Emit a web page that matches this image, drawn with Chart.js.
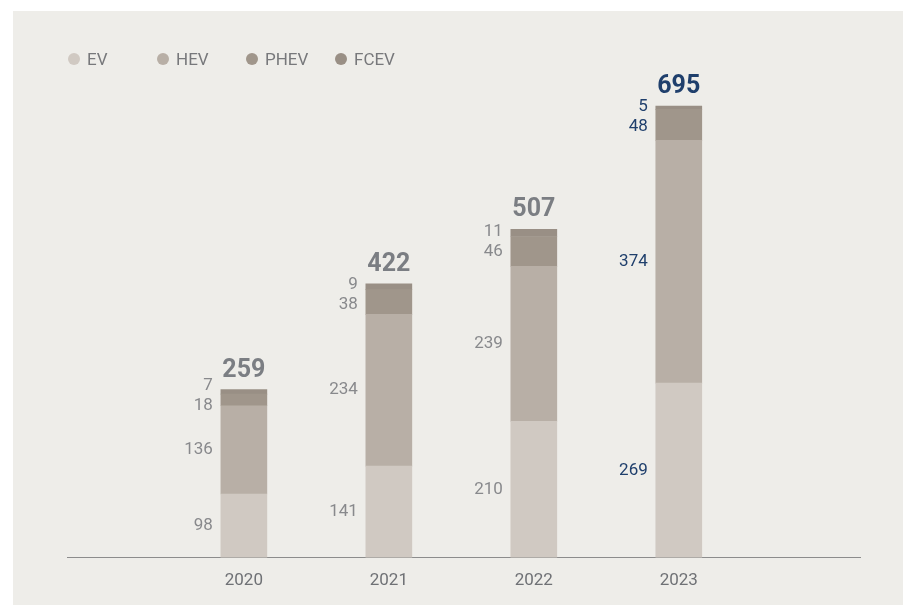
<!DOCTYPE html>
<html lang="en">
<head>
<meta charset="utf-8">
<title>EV / HEV / PHEV / FCEV</title>
<script src="https://cdn.jsdelivr.net/npm/chart.js@4.4.1/dist/chart.umd.min.js"></script>
<style>
    html, body { margin: 0; padding: 0; background: #ffffff; }
    body { width: 903px; height: 605px; position: relative; overflow: hidden; }
    #painel {
        position: absolute; left: 13px; top: 11px;
        width: 890px; height: 594px;
        background: #eeede9;
    }
    #grafico { position: absolute; left: 0; top: 0; }
    #legenda {
        position: absolute; left: 55px; top: 38px;
        display: flex; font-family: Roboto, "Liberation Sans", sans-serif;
        font-size: 17px; color: #77787b;
    }
    .item { width: 89px; display: flex; align-items: center; }
    .ponto { width: 12px; height: 12px; border-radius: 50%; margin-right: 7px; }
</style>
</head>
<body>
<div id="painel">
    <canvas id="grafico" width="890" height="594"></canvas>
    <div id="legenda"></div>
</div>
<script>
// Dados do gráfico
const years = [2020, 2021, 2022, 2023];
const ev = [98, 141, 210, 269];
const hev = [136, 234, 239, 374];
const phev = [18, 38, 46, 48];
const fcev = [7, 9, 11, 5];
const totals = [259, 422, 507, 695];
const seriesNames = ['EV', 'HEV', 'PHEV', 'FCEV'];

document.addEventListener('DOMContentLoaded', function() {
    const cores = ['#d0c9c2', '#b8afa6', '#a0968b', '#998f85'];
    const cinza = '#88898c';
    const cinzaTotal = '#7b7e83';
    const azul = '#1f3f6c';
    const fonte = 'Roboto, "Liberation Sans", sans-serif';

    // Legenda em HTML (espaçamento fixo entre itens)
    const legenda = document.getElementById('legenda');
    seriesNames.forEach((nome, i) => {
        const item = document.createElement('div');
        item.className = 'item';
        item.innerHTML = '<span class="ponto" style="background:' + cores[i] + '"></span>' + nome;
        legenda.appendChild(item);
    });

    const serie = (valores) => years.map((ano, i) => ({ x: ano, y: valores[i] }));

    // Rótulos dos segmentos e totais
    const rotulos = {
        id: 'rotulos',
        afterDatasetsDraw(chart) {
            const c = chart.ctx;
            c.save();
            years.forEach((ano, i) => {
                const ultimo = i === years.length - 1;
                // centros dos segmentos, de cima para baixo
                const itens = [];
                for (let d = chart.data.datasets.length - 1; d >= 0; d--) {
                    const el = chart.getDatasetMeta(d).data[i];
                    itens.push({ y: (el.y + el.base) / 2, v: chart.data.datasets[d].data[i].y, el: el });
                }
                const gap = 20;
                for (let k = 1; k < itens.length; k++) {
                    if (itens[k].y - itens[k - 1].y < gap) {
                        const m = (itens[k].y + itens[k - 1].y) / 2;
                        itens[k - 1].y = m - gap / 2;
                        itens[k].y = m + gap / 2;
                    }
                }
                c.font = '17px ' + fonte;
                c.fillStyle = ultimo ? azul : cinza;
                c.textAlign = 'right';
                c.textBaseline = 'middle';
                itens.forEach(it => {
                    c.fillText(String(it.v), it.el.x - it.el.width / 2 - 8, it.y);
                });
                // total acima da barra
                const topo = chart.getDatasetMeta(chart.data.datasets.length - 1).data[i];
                c.font = 'bold 25px ' + fonte;
                c.fillStyle = ultimo ? azul : cinzaTotal;
                c.textAlign = 'center';
                c.textBaseline = 'alphabetic';
                c.fillText(String(totals[i]), topo.x, topo.y - 13);
            });
            c.restore();
        }
    };

    const ctx = document.getElementById('grafico').getContext('2d');
    const grafico = new Chart(ctx, {
        type: 'bar',
        data: {
            datasets: [
                { label: 'EV', data: serie(ev), backgroundColor: cores[0] },
                { label: 'HEV', data: serie(hev), backgroundColor: cores[1] },
                { label: 'PHEV', data: serie(phev), backgroundColor: cores[2] },
                { label: 'FCEV', data: serie(fcev), backgroundColor: cores[3] }
            ]
        },
        options: {
            responsive: false,
            animation: false,
            barThickness: 46,
            layout: { padding: { left: 54, right: 43, top: 73, bottom: 1 } },
            plugins: {
                legend: { display: false },
                tooltip: { enabled: false }
            },
            scales: {
                x: {
                    type: 'linear',
                    stacked: true,
                    offset: false,
                    min: 2018.78,
                    max: 2024.25,
                    afterBuildTicks: (scale) => {
                        scale.ticks = years.map(v => ({ value: v }));
                    },
                    ticks: {
                        callback: (v) => String(v),
                        color: '#6f7175',
                        font: { family: fonte, size: 17 },
                        padding: 13,
                        autoSkip: false,
                        maxRotation: 0
                    },
                    grid: { display: false, drawTicks: false },
                    border: { display: true, color: '#8c8c8c', width: 1 }
                },
                y: {
                    display: false,
                    stacked: true,
                    min: 0,
                    max: 730
                }
            }
        },
        plugins: [rotulos]
    });
});
</script>
</body>
</html>
